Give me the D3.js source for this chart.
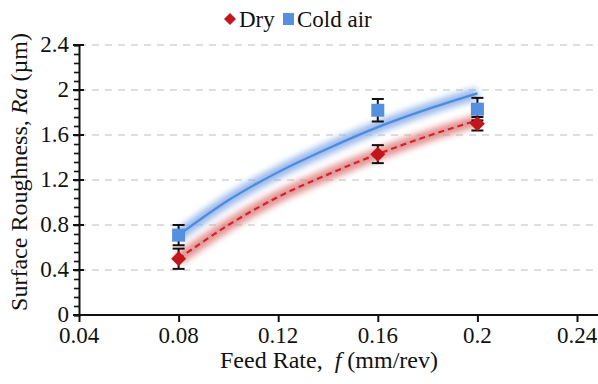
<!DOCTYPE html>
<html><head><meta charset="utf-8">
<script src="https://cdn.jsdelivr.net/npm/d3@7"></script>
<style>body{margin:0;background:#fff}svg{display:block}</style>
</head><body><svg id="c" width="598" height="384"></svg>
<script>
const xTicks = [0.04, 0.08, 0.12, 0.16, 0.2, 0.24];
const yTicks = [0, 0.4, 0.8, 1.2, 1.6, 2, 2.4];
const feed = [0.08, 0.16, 0.2];
const dry = [0.50, 1.43, 1.70];
const dryErr = [0.09, 0.08, 0.06];
const cold = [0.71, 1.82, 1.83];
const coldErr = [0.09, 0.10, 0.10];
const trendX = [0.08, 0.10, 0.12, 0.14, 0.16, 0.18, 0.20];
const dryTrend = [0.50, 0.80, 1.05, 1.25, 1.43, 1.59, 1.73];
const coldTrend = [0.71, 1.02, 1.27, 1.48, 1.67, 1.83, 1.97];
const seriesNames = ["Dry", "Cold air"];

const FONT = '"Liberation Serif"';
const svg = d3.select("#c");
const x = d3.scaleLinear().domain([0.04, 0.24]).range([79, 577]);
const y = d3.scaleLinear().domain([0, 2.4]).range([315, 45]);
const right = 598;
const txt = sel => sel.style("font-family", FONT).attr("fill", "#111");

const defs = svg.append("defs");
defs.append("filter").attr("id","glow").attr("x","-20%").attr("y","-30%").attr("width","140%").attr("height","160%")
  .append("feGaussianBlur").attr("stdDeviation", 3);

// gridlines
svg.append("g").selectAll("line").data(yTicks.filter(d => d > 0)).join("line")
  .attr("x1", x(0.04)).attr("x2", right).attr("y1", d => y(d)).attr("y2", d => y(d))
  .attr("stroke", "#d4d4d4").attr("stroke-width", 1.3).attr("stroke-dasharray", "7,6");

// y axis
const yAxis = svg.append("g").attr("transform", `translate(${x(0.04)},0)`)
  .call(d3.axisLeft(y).tickValues(d3.range(0, 2.401, 0.08)).tickSize(5).tickFormat(""));
yAxis.select(".domain").attr("stroke", "#111").attr("stroke-width", 2);
yAxis.selectAll(".tick line").attr("stroke", "#111").attr("stroke-width", 1.6);
svg.append("g").selectAll("line").data(yTicks).join("line")
  .attr("x1", x(0.04) - 6).attr("x2", x(0.04) + 5).attr("y1", d => y(d)).attr("y2", d => y(d))
  .attr("stroke", "#111").attr("stroke-width", 2);
svg.append("g").selectAll("text").data(yTicks).join("text").call(txt)
  .attr("x", 69).attr("y", d => y(d) - 1).attr("dy", "0.35em").attr("text-anchor", "end")
  .attr("font-size", 23).text(d => d);

// x axis
const xAxis = svg.append("g").attr("transform", `translate(0,${y(0)})`)
  .call(d3.axisBottom(x).tickValues(xTicks).tickSize(7).tickFormat(""));
xAxis.select(".domain").remove();
xAxis.selectAll(".tick line").attr("stroke", "#111").attr("stroke-width", 2);
svg.append("line").attr("x1", x(0.04) - 6).attr("x2", right).attr("y1", y(0)).attr("y2", y(0))
  .attr("stroke", "#111").attr("stroke-width", 2);
svg.append("g").selectAll("text").data(xTicks).join("text").call(txt)
  .attr("x", d => x(d)).attr("y", 343).attr("text-anchor", "middle")
  .attr("font-size", 23).text(d => d);

// axis titles
const xt = svg.append("text").call(txt)
  .attr("x", 329).attr("y", 368).attr("text-anchor", "middle").attr("font-size", 24);
xt.append("tspan").text("Feed Rate,\u00a0\u00a0");
xt.append("tspan").attr("font-style", "italic").text("f");
xt.append("tspan").text(" (mm/rev)");
const yt = svg.append("text").call(txt)
  .attr("transform", "translate(27,172) rotate(-90)").attr("text-anchor", "middle").attr("font-size", 24);
yt.append("tspan").text("Surface Roughness, ");
yt.append("tspan").attr("font-style", "italic").text("Ra");
yt.append("tspan").text(" (\u00b5m)");

// trend lines
const line = d3.line().x((d, i) => x(trendX[i])).y(d => y(d)).curve(d3.curveMonotoneX);
svg.append("path").attr("d", line(coldTrend)).attr("fill","none").attr("stroke","#8fb0ea").attr("stroke-width",12).attr("filter","url(#glow)").attr("opacity",0.9);
svg.append("path").attr("d", line(dryTrend)).attr("fill","none").attr("stroke","#e08686").attr("stroke-width",12).attr("filter","url(#glow)").attr("opacity",0.9);
svg.append("path").attr("d", line(coldTrend)).attr("fill","none").attr("stroke","#4a8de0").attr("stroke-width",2.2);
svg.append("path").attr("d", line(dryTrend)).attr("fill","none").attr("stroke","#d0242a").attr("stroke-width",2.2).attr("stroke-dasharray","6,4");

// error bars
function errBars(vals, errs) {
  const g = svg.append("g").attr("stroke", "#111").attr("stroke-width", 2);
  vals.forEach((v, i) => {
    const cx = x(feed[i]);
    g.append("line").attr("x1", cx).attr("x2", cx).attr("y1", y(v - errs[i])).attr("y2", y(v + errs[i]));
    g.append("line").attr("x1", cx - 6).attr("x2", cx + 6).attr("y1", y(v - errs[i])).attr("y2", y(v - errs[i]));
    g.append("line").attr("x1", cx - 6).attr("x2", cx + 6).attr("y1", y(v + errs[i])).attr("y2", y(v + errs[i]));
  });
}
errBars(dry, dryErr);
errBars(cold, coldErr);

// markers
const diamond = s => `M0,${-s}L${s},0L0,${s}L${-s},0Z`;
svg.append("g").selectAll("path").data(dry).join("path")
  .attr("transform", (d, i) => `translate(${x(feed[i])},${y(d)})`)
  .attr("d", diamond(7.5)).attr("fill", "#c0161c");
svg.append("g").selectAll("rect").data(cold).join("rect")
  .attr("x", (d, i) => x(feed[i]) - 6.5).attr("y", d => y(d) - 6.5)
  .attr("width", 13).attr("height", 13).attr("fill", "#5590e0");

// legend
const lg = svg.append("g");
lg.append("path").attr("transform", "translate(230,19)").attr("d", diamond(6)).attr("fill", "#c0161c");
lg.append("text").call(txt).attr("x", 239).attr("y", 27).attr("font-size", 23).text(seriesNames[0]);
lg.append("rect").attr("x", 283).attr("y", 13).attr("width", 11).attr("height", 12).attr("fill", "#5590e0");
lg.append("text").call(txt).attr("x", 297).attr("y", 27).attr("font-size", 23).text(seriesNames[1]);
</script></body></html>
